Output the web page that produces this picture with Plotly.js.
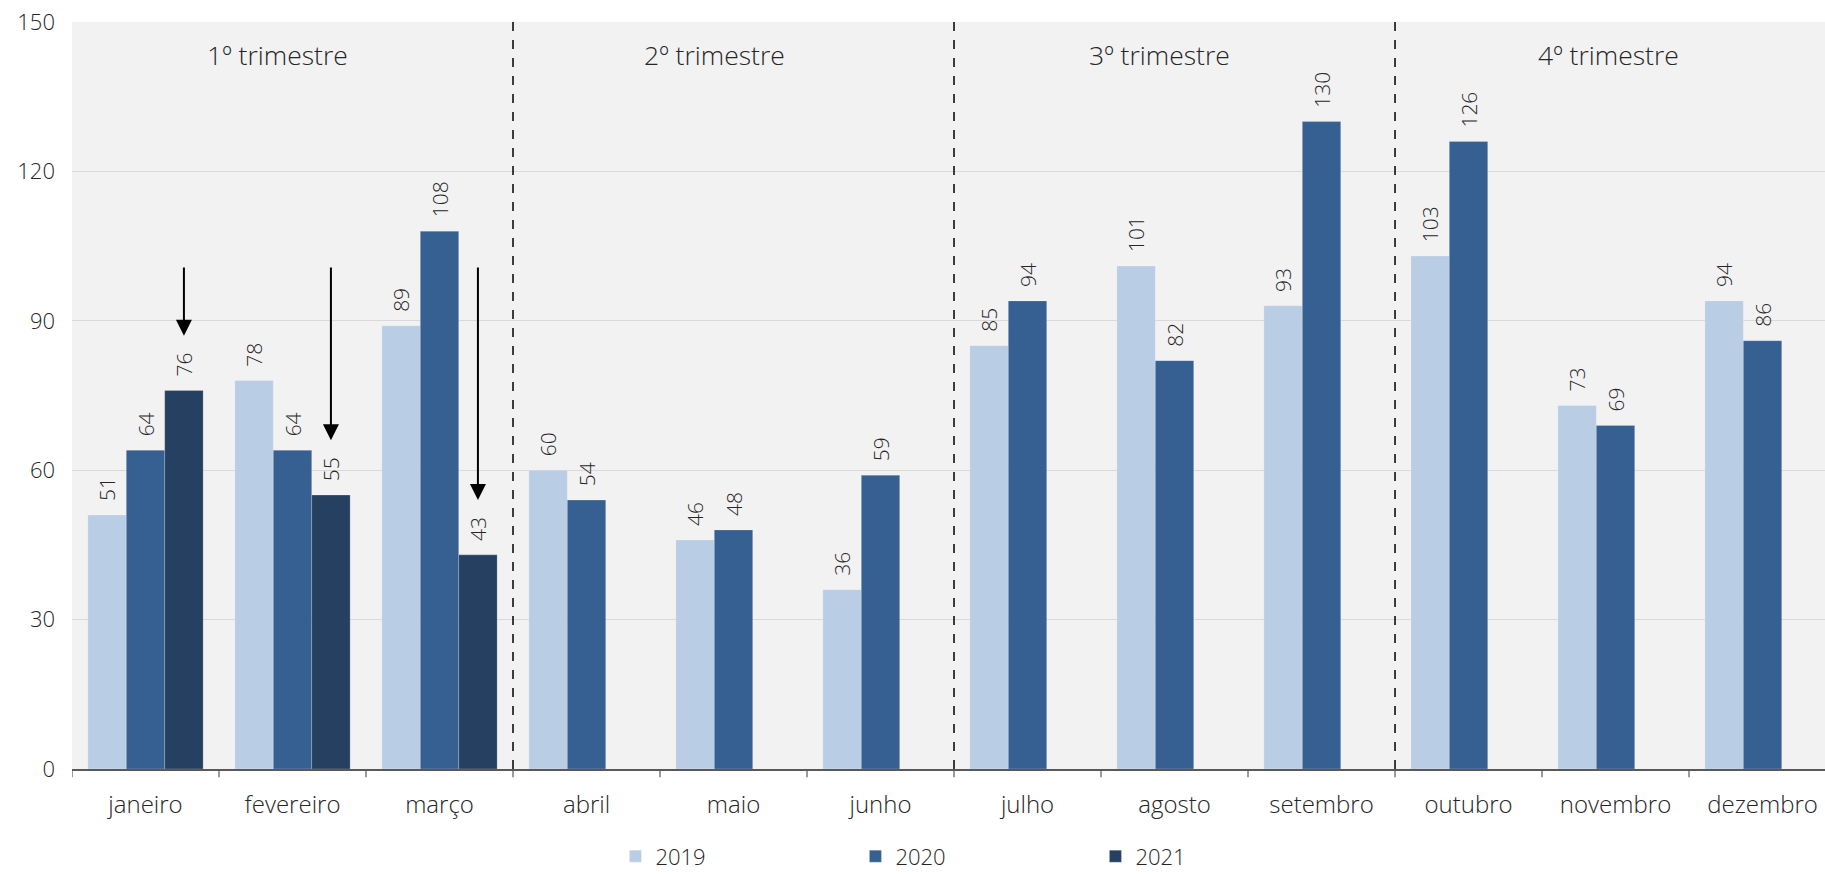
<!DOCTYPE html>
<html>
<head>
<meta charset="utf-8">
<script src="https://cdn.plot.ly/plotly-3.0.1.min.js"></script>
<style>html,body{margin:0;padding:0;background:#fff;overflow:hidden}</style>
</head>
<body>
<div id="chart" style="width:1825px;height:874px"></div>
<script>
const months = ['janeiro','fevereiro','março','abril','maio','junho','julho','agosto','setembro','outubro','novembro','dezembro'];
const v2019 = [51, 78, 89, 60, 46, 36, 85, 101, 93, 103, 73, 94];
const v2020 = [64, 64, 108, 54, 48, 59, 94, 82, 130, 126, 69, 86];
const v2021 = [76, 55, 43, null, null, null, null, null, null, null, null, null];
const quarterLabels = ['1º trimestre','2º trimestre','3º trimestre','4º trimestre'];
const yTicks = [0, 30, 60, 90, 120, 150];
const arrowTop = 101;      // value where the arrows start
const arrowGap = 11;       // arrow tip sits this far above the 2021 value

const FONT = '"Open Sans", sans-serif';
const TXT = '#262626';
const colors = {'2019':'#B9CDE5','2020':'#366092','2021':'#254061'};
const bargap = 0.216;
const barW = (1 - bargap) / 3;

function barTrace(name, vals){
  return {
    type:'bar', name:name, x: months.map((m,i)=>i), y: vals,
    marker:{color:colors[name], line:{color:'rgba(255,255,255,0.35)', width:0.6}},
    text: vals.map(v => v==null ? '' : '\u00a0\u00a0' + v),
    textposition:'outside', textangle:-90, constraintext:'none', cliponaxis:false,
    textfont:{family:FONT, size:21, color:TXT, weight:300},
    hoverinfo:'skip'
  };
}
const data = [barTrace('2019', v2019), barTrace('2020', v2020), barTrace('2021', v2021)];

const shapes = [2.5, 5.5, 8.5].map(b => ({
  type:'line', xref:'x', yref:'paper', x0:b, x1:b, y0:0, y1:1,
  line:{color:'#000', width:1.5, dash:'dash'}
}));

const qx = [0.9, 3.87, 6.9, 9.95];
const annotations = quarterLabels.map((t,i)=>({
  text:t, x:qx[i], y:143.4, xref:'x', yref:'y', showarrow:false,
  font:{family:FONT, size:26.5, color:TXT, weight:300}
}));
v2021.forEach((v,i)=>{
  if(v==null) return;
  annotations.push({
    x: i + barW, y: v + arrowGap, xref:'x', yref:'y',
    ax: i + barW, ay: arrowTop, axref:'x', ayref:'y',
    text:'', showarrow:true, arrowhead:2, arrowsize:1.6, arrowwidth:2, arrowcolor:'#000'
  });
});

const layout = {
  width:1825, height:874,
  margin:{l:72, r:0, t:22, b:105, autoexpand:false},
  paper_bgcolor:'#fff', plot_bgcolor:'#F2F2F2',
  barmode:'group', bargap:bargap, bargroupgap:0,
  font:{family:FONT, color:TXT, size:22, weight:300},
  xaxis:{
    type:'linear', range:[-0.5, 11.425], automargin:false,
    tickmode:'array', tickvals: months.map((m,i)=>i), ticktext: months,
    ticks:'', showline:true, linecolor:'#595959', linewidth:1.5,
    showgrid:false, zeroline:false, tickfont:{size:24}, ticklabelstandoff:14
  },
  yaxis:{
    range:[0,150], tickmode:'array', tickvals:yTicks, automargin:false,
    gridcolor:'#D9D9D9', gridwidth:1, zeroline:false, showline:false,
    tickfont:{size:22}, ticklabelstandoff:16
  },
  showlegend:true,
  legend:{orientation:'h', x:0.31, xanchor:'left', y:-0.117, yanchor:'middle',
    entrywidth:195, entrywidthmode:'pixels', font:{size:22}, traceorder:'normal',
    tracegroupgap:0, itemwidth:30},
  shapes: shapes.concat(months.map((m,i)=>({
    type:'line', xref:'x', yref:'paper', x0:i-0.5, x1:i-0.5, y0:0, y1:-0.011,
    line:{color:'#595959', width:1.2}
  }))),
  annotations: annotations
};
Plotly.newPlot('chart', data, layout, {staticPlot:true, displayModeBar:false});
</script>
</body>
</html>
